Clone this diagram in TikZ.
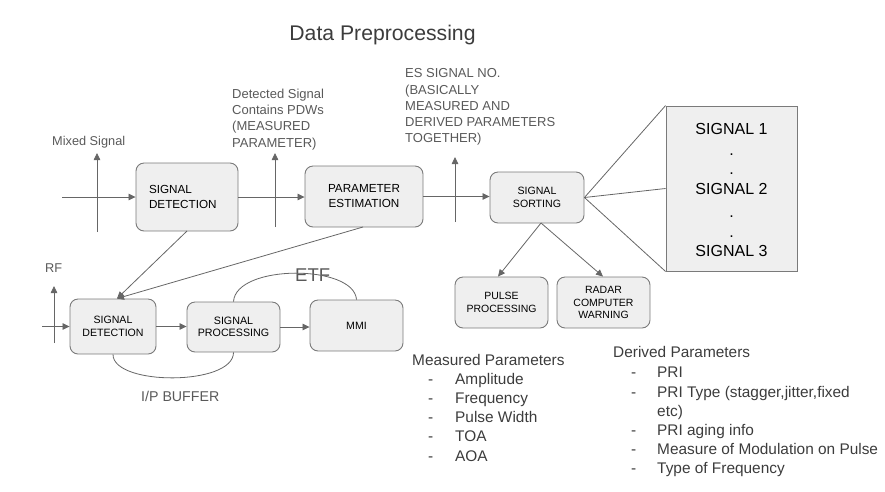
\documentclass[tikz,border=0pt]{standalone}
\usepackage{fontspec}
\setmainfont{Liberation Sans}
\usetikzlibrary{arrows.meta,calc}
\definecolor{linegray}{HTML}{666666}
\definecolor{boxfill}{HTML}{EFEFEF}
\definecolor{boxline}{HTML}{7A7A7A}
\definecolor{labelgray}{HTML}{595959}
\definecolor{textdark}{HTML}{3C3C3C}
\tikzset{
  rbox/.style={draw=boxline, line width=0.9pt, fill=boxfill, rounded corners=8pt, inner sep=0pt, align=center, text=black},
  conn/.style={draw=linegray, line width=0.8pt},
  arr/.style={conn, -{Triangle[length=7pt,width=6.5pt]}},
  lbl/.style={inner sep=0pt, text=labelgray, align=left},
  plist/.style={lbl, anchor=base west, text=textdark, font=\fs{15.4}{18}},
}
\newcommand{\fs}[2]{\fontsize{#1}{#2}\selectfont}
\begin{document}
\begin{tikzpicture}[x=1pt,y=-1pt]
\useasboundingbox (0,0) rectangle (885,491);
% title
\node[lbl, anchor=base, text=textdark, font=\fs{21.2}{25}] (title) at (382.5,40) {Data Preprocessing};

% top row boxes
\node[rbox, minimum width=102pt, minimum height=68pt, text width=76pt, inner xsep=13pt, align=left, font=\fs{11.7}{15}] (sd1) at (187,197) {SIGNAL\\DETECTION};
\node[rbox, minimum width=118pt, minimum height=61pt, font=\fs{11.7}{15}] (pe) at (364,196.5) {PARAMETER\\ESTIMATION};
\node[rbox, minimum width=94pt, minimum height=51pt, font=\fs{10.6}{13}] (ss) at (537,197.5) {SIGNAL\\SORTING};
\node[draw=boxline, line width=0.9pt, fill=boxfill, minimum width=131pt, minimum height=165pt, inner sep=0pt] (sig) at (731.5,188.5) {};
\node[inner sep=0pt, font=\fs{16}{18}, anchor=base] (s1) at (731.5,134) {SIGNAL 1};
\node[inner sep=0pt, font=\fs{16}{18}, anchor=base] (s2) at (731.5,194) {SIGNAL 2};
\node[inner sep=0pt, font=\fs{16}{18}, anchor=base] (s3) at (731.5,256) {SIGNAL 3};
\node[inner sep=0pt, font=\fs{16}{18}, anchor=base] (d1) at (731.5,155) {.};
\node[inner sep=0pt, font=\fs{16}{18}, anchor=base] (d2) at (731.5,174) {.};
\node[inner sep=0pt, font=\fs{16}{18}, anchor=base] (d3) at (731.5,217) {.};
\node[inner sep=0pt, font=\fs{16}{18}, anchor=base] (d4) at (731.5,237) {.};

% bottom row boxes
\node[rbox, minimum width=86pt, minimum height=55pt, font=\fs{10.6}{12.5}] (sd2) at (113,326.5) {SIGNAL\\DETECTION};
\node[rbox, minimum width=93pt, minimum height=50pt, font=\fs{10.7}{12.5}] (sp) at (233.5,327) {SIGNAL\\PROCESSING};
\node[rbox, minimum width=93pt, minimum height=51pt, font=\fs{10.6}{12.5}] (mmi) at (356.5,325.5) {MMI};
\node[rbox, minimum width=93pt, minimum height=51pt, font=\fs{10.5}{13.5}] (pp) at (501.5,302.5) {PULSE\\PROCESSING};
\node[rbox, minimum width=93pt, minimum height=51pt, font=\fs{10.5}{12.7}] (rcw) at (603.5,302.5) {RADAR\\COMPUTER\\WARNING};

% labels
\node[lbl, anchor=base west, font=\fs{12.75}{15}] (mixed) at (52,145.5) {Mixed Signal};
\node[lbl, anchor=north west, font=\fs{13}{16.3}] (det) at (232,88.5) {Detected Signal\\Contains PDWs\\(MEASURED\\PARAMETER)};
\node[lbl, anchor=north west, font=\fs{13}{16.3}] (es) at (405,68.5) {ES SIGNAL NO.\\(BASICALLY\\MEASURED AND\\DERIVED PARAMETERS\\TOGETHER)};
\node[lbl, anchor=base west, font=\fs{12.75}{15}] (rf) at (45,272.5) {RF};
\node[lbl, anchor=base west, font=\fs{18.5}{20}] (etf) at (295,281.5) {ETF};
\node[lbl, anchor=base west, font=\fs{14.2}{17}] (ipb) at (141,401) {I/P BUFFER};

% coordinates for free ends
\coordinate (in1) at (62,197);
\coordinate (mxb) at (97,232);
\coordinate (mxt) at (97,153);
\coordinate (dtb) at (275,227);
\coordinate (dtt) at (275,153);
\coordinate (esb) at (455,222);
\coordinate (est) at (455,157);
\coordinate (rfb) at (54,343);
\coordinate (rft) at (54,286);
\coordinate (in2) at (42,326.5);
\coordinate (ssb) at (541,223);
\coordinate (sd1b) at (187,231);
\coordinate (peb) at (363,227);

% connectors
\draw[arr] (in1) -- (sd1.west);
\draw[arr] (mxb) -- (mxt);
\draw[arr] (sd1.east) -- (sd1.east -| pe.west);
\draw[arr] (dtb) -- (dtt);
\draw[arr] (pe.east) -- (pe.east -| ss.west);
\draw[arr] (esb) -- (est);
\draw[conn] (ss.east) -- (sig.north west);
\draw[conn] (ss.east) -- (sig.west);
\draw[conn] (ss.east) -- (sig.south west);
\draw[arr] (ssb) -- ([xshift=-3.5pt]pp.north);
\draw[arr] (ssb) -- ([xshift=-0.5pt]rcw.north);
\draw[arr] (sd1b) -- ([xshift=4pt]sd2.north);
\draw[arr] (peb) -- ([xshift=4pt]sd2.north);
\draw[arr] (rfb) -- (rft);
\draw[arr] (in2) -- (sd2.west);
\draw[arr] (sd2.east) -- (sd2.east -| sp.west);
\draw[arr] (sp.east) -- (sp.east -| mmi.west);
\draw[conn] (sp.north) .. controls (236,264) and (354,264) .. (mmi.north);
\draw[conn] (sd2.south) .. controls (113,386) and (233.5,386) .. (sp.south);

% parameter lists
\node[plist] (mh) at (412,365) {Measured Parameters};
\foreach \t [count=\i] in {Amplitude,Frequency,Pulse Width,TOA,AOA} {
  \node[plist] (mdash\i) at (428,{384+19.3*(\i-1)}) {-};
  \node[plist] (m\i) at (455,{384+19.3*(\i-1)}) {\t};
}
\node[plist] (dh) at (613,357.5) {Derived Parameters};
\foreach \t/\y [count=\i] in {PRI/377, {PRI Type (stagger,jitter,fixed}/397, {PRI aging info}/435.5, {Measure of Modulation on Pulse}/454.5, {Type of Frequency}/473.5} {
  \node[plist] (ddash\i) at (631,\y) {-};
  \node[plist] (dd\i) at (657,\y) {\t};
}
\node[plist] (dcont) at (657,416) {etc)};
\end{tikzpicture}
\end{document}
